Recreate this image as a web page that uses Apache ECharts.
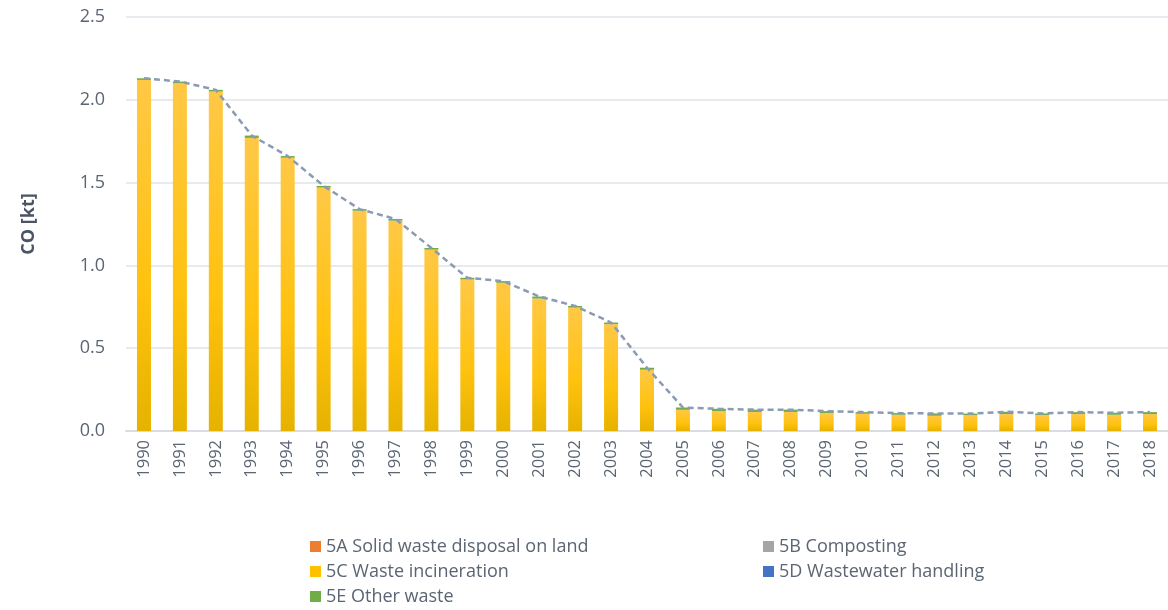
<!DOCTYPE html>
<html><head><meta charset="utf-8">
<script src="https://cdn.jsdelivr.net/npm/echarts@6/dist/echarts.min.js"></script>
<style>html,body{margin:0;padding:0;background:#fff}#c{width:1168px;height:610px}</style>
</head><body><div id="c"></div>
<script>
const years = ['1990','1991','1992','1993','1994','1995','1996','1997','1998','1999','2000','2001','2002','2003','2004','2005','2006','2007','2008','2009','2010','2011','2012','2013','2014','2015','2016','2017','2018'];
const solidWaste = [0,0,0,0,0,0,0,0,0,0,0,0,0,0,0,0,0,0,0,0,0,0,0,0,0,0,0,0,0];
const composting = [0,0,0,0,0,0,0,0,0,0,0,0,0,0,0,0,0,0,0,0,0,0,0,0,0,0,0,0,0];
const incineration = [2.12,2.10,2.05,1.77,1.65,1.47,1.33,1.27,1.095,0.915,0.895,0.80,0.745,0.645,0.37,0.128,0.12,0.115,0.115,0.108,0.104,0.098,0.092,0.095,0.102,0.096,0.102,0.098,0.102];
const wastewater = [0,0,0,0,0,0,0,0,0,0,0,0,0,0,0,0,0,0,0,0,0,0,0,0,0,0,0,0,0];
const otherWaste = [0.01,0.01,0.01,0.014,0.01,0.01,0.01,0.01,0.01,0.01,0.01,0.012,0.01,0.01,0.012,0.014,0.014,0.014,0.014,0.012,0.01,0.01,0.014,0.01,0.014,0.01,0.012,0.012,0.012];
const total = incineration.map((v,i)=>+(v+otherWaste[i]+solidWaste[i]+composting[i]+wastewater[i]).toFixed(3));
const yTicks = {min:0, max:2.5, interval:0.5};

const font = 'Open Sans';
const txt = '#5b6573';
const chart = echarts.init(document.getElementById('c'));
const incColor = new echarts.graphic.LinearGradient(0,0,0,1,[{offset:0,color:'#FFC845'},{offset:0.6,color:'#FFC20E'},{offset:1,color:'#E6B200'}]);
const mk = (name, data, color) => ({name, type:'bar', stack:'s', data, barWidth:14, itemStyle:{color}});
const legendText = {fontFamily:font, fontSize:18, color:txt, lineHeight:19};
chart.setOption({
  animation:false,
  textStyle:{fontFamily:font},
  grid:{left:126, right:-2, top:17, bottom:179},
  legend:[
    {orient:'vertical', left:310, top:537, padding:0, height:73, itemWidth:11, itemHeight:11, itemGap:6, icon:'rect',
     textStyle:legendText,
     data:[{name:'5A Solid waste disposal on land'},{name:'5C Waste incineration',itemStyle:{color:'#FFC000'}},{name:'5E Other waste'}]},
    {orient:'vertical', left:763, top:537, padding:0, height:73, itemWidth:11, itemHeight:11, itemGap:6, icon:'rect',
     textStyle:legendText, data:['5B Composting','5D Wastewater handling']}
  ],
  xAxis:{type:'category', data:years,
    axisLine:{lineStyle:{color:'#d9dde3', width:2}}, axisTick:{show:false},
    axisLabel:{rotate:90, fontFamily:font, fontSize:16.5, color:txt, margin:9}},
  yAxis:{type:'value', min:yTicks.min, max:yTicks.max, interval:yTicks.interval,
    name:'CO [kt]', nameLocation:'middle', nameGap:88, nameRotate:90,
    nameTextStyle:{fontFamily:font, fontSize:18, fontWeight:'bold', color:'#4a5463'},
    axisLine:{show:false}, axisTick:{show:false},
    axisLabel:{fontFamily:font, fontSize:18, color:txt, margin:21, formatter:v=>v.toFixed(1)},
    splitLine:{lineStyle:{color:'#dfe3e8', width:1.5}}},
  series:[
    mk('5A Solid waste disposal on land', solidWaste, '#ED7D31'),
    mk('5B Composting', composting, '#A5A5A5'),
    {name:'5C Waste incineration', type:'bar', stack:'s', data:incineration, barWidth:14, itemStyle:{color:incColor}},
    mk('5D Wastewater handling', wastewater, '#4472C4'),
    mk('5E Other waste', otherWaste, '#70AD47'),
    {name:'Total', type:'line', data:total, symbol:'none', z:5,
     lineStyle:{color:'#8a9bb3', width:2.5, type:[6,4]}}
  ]
});
</script></body></html>
